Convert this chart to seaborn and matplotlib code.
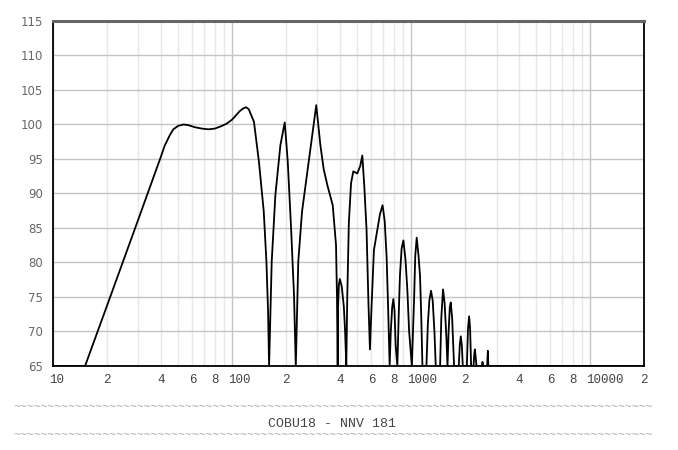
import matplotlib
matplotlib.use('Agg')
import matplotlib.pyplot as plt
import matplotlib.transforms as mtransforms
from matplotlib.ticker import FixedLocator, FixedFormatter
import pandas as pd
import seaborn as sns

# frequency response (Hz, dB), notches clipped at 65
freq = [10, 15.1, 20, 30, 40, 42, 45, 47, 50, 53.6, 57, 62, 68, 74, 80, 86, 93, 100,
        105, 110, 115, 119.8, 124, 132.5, 141.3, 150.3, 155.6, 158.9, 161, 166.5,
        174.6, 186.2, 196.9, 204.7, 213.6, 221.8, 227, 234.3, 246, 268, 295.3, 311.4,
        325, 340.7, 365, 380.8, 385.5, 389, 391, 395, 400, 410, 421, 428, 434.6, 440,
        449, 462, 475.5, 500.6, 520, 534, 548, 564, 578, 589, 600, 620, 647, 670, 693,
        712, 730, 745, 759, 770, 784, 796, 808, 820, 838, 852, 866, 885, 905.6, 930,
        953, 975, 1010, 1040, 1055, 1075, 1100, 1122, 1140, 1157, 1218, 1240, 1265,
        1292, 1320, 1350, 1373, 1452, 1475, 1508, 1540, 1575, 1597, 1620, 1645, 1665,
        1695, 1720, 1738, 1846, 1870, 1895, 1920, 1944, 2048, 2080, 2109, 2135, 2164,
        2233, 2250, 2270, 2290, 2319, 2490, 2506, 2520, 2660, 2684, 2700, 20000]
spl = [65, 65, 73.7, 86.3, 95.3, 96.9, 98.5, 99.3, 99.8, 100.0, 99.9, 99.6, 99.4,
       99.3, 99.4, 99.7, 100.1, 100.7, 101.3, 101.9, 102.3, 102.5, 102.2, 100.4, 94.6,
       87.4, 80.1, 72.9, 65, 80.1, 89.8, 97.0, 100.3, 94.6, 85.0, 75.3, 65, 80.1, 87.4,
       94.6, 102.8, 97.0, 93.5, 91.2, 88.3, 82.5, 75, 65, 73.6, 76.8, 77.6, 76.5, 73.6,
       70, 65, 75, 85.7, 91.5, 93.2, 92.9, 94, 95.5, 91, 84.7, 74, 67.4, 73, 81.8,
       84.7, 87, 88.3, 86, 80.8, 73, 65, 70, 73.5, 74.7, 73, 68, 65, 72, 78, 82, 83.2,
       80.5, 76, 70, 65, 75, 81, 83.6, 81, 78, 72, 65, 65, 71, 74.5, 75.9, 74.5, 70,
       65, 65, 72, 76.1, 74, 69, 65, 70, 73.5, 74.2, 72, 68, 65, 65, 68, 69.3, 68, 65,
       65, 70.5, 72.2, 70.5, 65, 65, 66.5, 67.4, 66.5, 65, 65, 65.6, 65, 65, 67.2, 65,
       65]

major_x = [10, 100, 1000, 10000]
major_labels = ['10', '100', '1000', '10000']
minor_x = [20, 30, 40, 50, 60, 70, 80, 90,
           200, 300, 400, 500, 600, 700, 800, 900,
           2000, 3000, 4000, 5000, 6000, 7000, 8000, 9000, 20000]
minor_labels = ['2', '', '4', '', '6', '', '8', ''] * 3 + ['2']
y_ticks = list(range(65, 116, 5))
title = 'COBU18 - NNV 181'

df = pd.DataFrame({'freq': freq, 'spl': spl})

sns.set_style('white')
fig = plt.figure(figsize=(6.78, 4.5), dpi=100)
ax = fig.add_axes([0.0782, 0.1867, 0.8717, 0.7667])

sns.lineplot(data=df, x='freq', y='spl', ax=ax, color='black', linewidth=1.3,
             estimator=None, sort=False)

ax.set_xscale('log')
ax.set_xlim(10, 20000)
ax.set_ylim(65, 115)
ax.set_xlabel('')
ax.set_ylabel('')

ax.xaxis.set_major_locator(FixedLocator(major_x))
ax.xaxis.set_major_formatter(FixedFormatter(major_labels))
ax.xaxis.set_minor_locator(FixedLocator(minor_x))
ax.xaxis.set_minor_formatter(FixedFormatter(minor_labels))
ax.set_yticks(y_ticks)

ax.grid(which='major', axis='x', color='#c4c4c4', linewidth=1.0)
ax.grid(which='minor', axis='x', color='#e8e8e8', linewidth=1.0)
ax.grid(which='major', axis='y', color='#c4c4c4', linewidth=1.0)
ax.set_axisbelow(True)

ax.tick_params(axis='both', which='both', length=0)
ax.tick_params(axis='x', which='both', pad=6, labelsize=9, labelcolor='#444444')
ax.tick_params(axis='y', pad=7, labelsize=8.5, labelcolor='#666666')

offset = mtransforms.ScaledTranslation(-3.6 / 100, 0, fig.dpi_scale_trans)
for lab in ax.get_xticklabels(which='both'):
    lab.set_fontfamily('Liberation Mono')
    lab.set_horizontalalignment('left')
    lab.set_transform(lab.get_transform() + offset)
for lab in ax.get_yticklabels():
    lab.set_fontfamily('DejaVu Sans')

for side in ['left', 'right', 'bottom']:
    ax.spines[side].set_color('black')
    ax.spines[side].set_linewidth(1.3)
ax.spines['top'].set_color('#666666')
ax.spines['top'].set_linewidth(2.2)

tildes = '~' * 93
fig.text(0.491, 1 - 407.5 / 450, tildes, ha='center', va='center',
         family='Liberation Mono', fontsize=8.2, color='#aaaaaa')
fig.text(0.489, 1 - 424 / 450, title, ha='center', va='center',
         family='Liberation Mono', fontsize=9.5, color='#444444')
fig.text(0.491, 1 - 435 / 450, tildes, ha='center', va='center',
         family='Liberation Mono', fontsize=8.2, color='#aaaaaa')

fig.savefig('out.png', dpi=100)
